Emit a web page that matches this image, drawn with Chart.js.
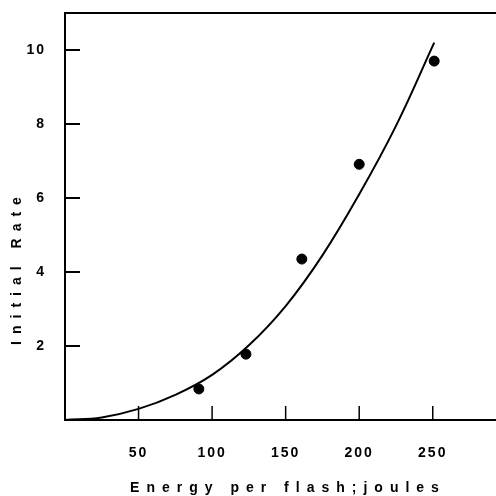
<!DOCTYPE html>
<html>
<head>
<meta charset="utf-8">
<script src="https://cdn.jsdelivr.net/npm/chart.js@4.4.1/dist/chart.umd.min.js"></script>
<style>
  html, body { margin: 0; padding: 0; background: #fff; overflow: hidden; }
  #wrap { width: 502px; height: 496px; }
</style>
</head>
<body>
<div id="wrap"><canvas id="myChart"></canvas></div>
<script>
// pontos medidos
var energia = [91, 123, 161, 200, 251];
var taxa = [0.84, 1.78, 4.35, 6.91, 9.70];

// curva ajustada
var curvaX = [0, 25, 50, 75, 100, 125, 150, 175, 200, 225, 251];
var curvaY = [0, 0.07, 0.3, 0.68, 1.22, 2.02, 3.08, 4.45, 6.1, 7.95, 10.2];

var ticksX = [50, 100, 150, 200, 250];
var ticksY = [2, 4, 6, 8, 10];

var tituloX = 'Energy per flash;joules';
var tituloY = 'Initial Rate';

function pares(xs, ys) {
    return xs.map(function (x, i) { return { x: x, y: ys[i] }; });
}

// marcas para dentro, linha de cima e titulos espaçados
var eixosPlugin = {
    id: 'eixos',
    beforeDraw: function (chart) {
        chart.ctx.letterSpacing = '2px';
    },
    afterDraw: function (chart) {
        var ctx = chart.ctx;
        var area = chart.chartArea;
        var sx = chart.scales.x;
        var sy = chart.scales.y;
        ctx.save();
        ctx.strokeStyle = '#000';
        ctx.lineWidth = 2;
        ctx.beginPath();
        ctx.moveTo(area.left, area.top);
        ctx.lineTo(chart.width, area.top);
        ctx.stroke();

        ticksY.forEach(function (v) {
            var py = sy.getPixelForValue(v);
            ctx.beginPath();
            ctx.moveTo(area.left, py);
            ctx.lineTo(area.left + 15, py);
            ctx.stroke();
        });
        ctx.lineWidth = 1.5;
        ticksX.forEach(function (v) {
            var px = sx.getPixelForValue(v);
            ctx.beginPath();
            ctx.moveTo(px, area.bottom);
            ctx.lineTo(px, area.bottom - 14);
            ctx.stroke();
        });

        ctx.fillStyle = '#000';
        ctx.font = 'bold 14px "Liberation Sans", Arial, sans-serif';
        ctx.letterSpacing = '7px';
        ctx.textAlign = 'center';
        ctx.textBaseline = 'middle';
        ctx.fillText(tituloX, 288, 488);

        ctx.translate(17, (area.top + area.bottom) / 2 + 54);
        ctx.rotate(-Math.PI / 2);
        ctx.fillText(tituloY, 3, 0);
        ctx.restore();
    }
};

const ctx = document.getElementById('myChart');
Chart.defaults.color = '#000';
Chart.defaults.font.family = '"Liberation Sans", Arial, sans-serif';
new Chart(ctx, {
    type: 'scatter',
    data: {
        datasets: [{
            label: 'curva',
            data: pares(curvaX, curvaY),
            showLine: true,
            borderColor: '#000',
            borderWidth: 2,
            pointRadius: 0,
            tension: 0.4
        },
        {
            label: 'pontos',
            data: pares(energia, taxa),
            pointRadius: 5,
            pointBackgroundColor: '#000',
            pointBorderColor: '#000'
        }
        ]
    },
    plugins: [eixosPlugin],
    options: {
        responsive: true,
        maintainAspectRatio: false,
        animation: false,
        layout: {
            padding: { top: 13, right: 0, left: 0, bottom: 0 }
        },
        scales: {
            x: {
                min: 0,
                max: 293,
                grid: { display: false, drawTicks: false },
                border: { display: true, color: '#000', width: 2 },
                afterBuildTicks: function (scale) {
                    scale.ticks = ticksX.map(function (v) { return { value: v }; });
                },
                afterFit: function (scale) {
                    scale.height = 76;
                    scale.paddingLeft = 0;
                    scale.paddingRight = 0;
                },
                ticks: {
                    padding: 25,
                    maxRotation: 0,
                    font: { size: 14, weight: 'bold' }
                }
            },
            y: {
                min: 0,
                max: 11,
                grid: { display: false, drawTicks: false },
                border: { display: true, color: '#000', width: 2 },
                afterBuildTicks: function (scale) {
                    scale.ticks = ticksY.map(function (v) { return { value: v }; });
                },
                afterFit: function (scale) {
                    scale.width = 65;
                    scale.paddingTop = 0;
                    scale.paddingBottom = 0;
                },
                ticks: {
                    padding: 19,
                    font: { size: 14, weight: 'bold' }
                }
            }
        },
        plugins: {
            legend: { display: false },
            tooltip: { enabled: false }
        }
    }
});
</script>
</body>
</html>
